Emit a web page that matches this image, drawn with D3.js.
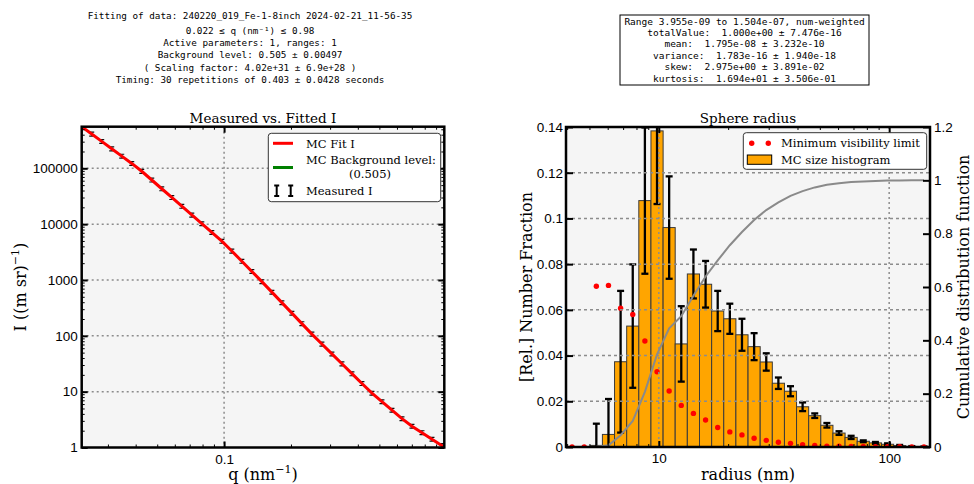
<!DOCTYPE html>
<html>
<head>
<meta charset="utf-8">
<script src="https://cdn.jsdelivr.net/npm/d3@7"></script>
<style>
  body { margin: 0; background: #fff; }
  text { white-space: pre; }
</style>
</head>
<body>
<div id="chart"></div>
<script>
// ---- left panel: measured vs fitted intensity
const qValues = [0.02286, 0.02536, 0.02813, 0.0312, 0.03461, 0.0384, 0.04259, 0.04725, 0.05241, 0.05814,
  0.0645, 0.07155, 0.07937, 0.08804, 0.09767, 0.1083, 0.1202, 0.1333, 0.1479, 0.1641,
  0.182, 0.2019, 0.2239, 0.2484, 0.2756, 0.3057, 0.3391, 0.3762, 0.4173, 0.4629,
  0.5135, 0.5696, 0.6319, 0.7009, 0.7776, 0.8625, 0.9568, 0.98];
const iMeasured = [5.556e5, 4.102e5, 3.032e5, 2.239e5, 1.655e5, 1.222e5, 8.85e4, 6.175e4, 4.304e4, 3.004e4,
  2.094e4, 1.461e4, 1.018e4, 7103, 4951, 3298, 2166, 1423, 933.7, 605.9,
  393.1, 255.1, 165.5, 107.4, 71.24, 47.46, 31.56, 20.99, 13.98, 9.389,
  6.614, 4.661, 3.284, 2.411, 1.845, 1.411, 1.08, 1.006];
const iError = [4.4e4, 3.3e4, 2.4e4, 1.8e4, 1.3e4, 9.8e3, 7.1e3, 4.9e3, 3.4e3, 2.4e3,
  1.7e3, 1.2e3, 810, 570, 400, 260, 173, 114, 75, 48,
  31, 20, 13, 8.6, 5.7, 3.8, 2.5, 1.7, 1.1, 0.75,
  0.53, 0.37, 0.26, 0.19, 0.15, 0.11, 0.09, 0.08];
const bgLevel = 0.505;
const qTicks = [0.1];
const iTicks = [1, 10, 100, 1000, 10000, 100000];

// ---- right panel: size distribution
const binEdges = [3.955, 4.465, 5.041, 5.691, 6.425, 7.254, 8.189, 9.246, 10.44, 11.78,
  13.30, 15.02, 16.96, 19.14, 21.61, 24.40, 27.55, 31.10, 35.11, 39.62,
  44.73, 50.49, 57.01, 64.36, 72.66, 82.03, 92.61, 104.55, 118.04, 133.26, 150.4];
const histValues = [0, 0, 0.0007, 0.0055, 0.0373, 0.0529, 0.1078, 0.1383, 0.0960, 0.0451,
  0.0757, 0.0712, 0.0595, 0.0561, 0.0491, 0.0439, 0.0372, 0.0279, 0.0244, 0.0176,
  0.0137, 0.0095, 0.0061, 0.0042, 0.0025, 0.0018, 0.0012, 0.0006, 0.0002, 0.0001];
const histErrors = [0, 0, 0.0095, 0.0155, 0.031, 0.027, 0.032, 0.032, 0.0224, 0.0165,
  0.0107, 0.0102, 0.0088, 0.0066, 0.007, 0.0059, 0.0038, 0.0025, 0.0022, 0.0019,
  0.001, 0.001, 0.0008, 0.0007, 0.0004, 0.0004, 0.0004, 0.0003, 0.0002, 0.0001];
const minVisibility = [0, 0, 0.0703, 0.0707, 0.0607, 0.058, 0.0464, 0.0329, 0.0245, 0.0182,
  0.0147, 0.0118, 0.0085, 0.0066, 0.0053, 0.0038, 0.0029, 0.0021, 0.0016, 0.001,
  0.0007, 0.0004, 0.0003, 0.0002, 0.0002, 0.0001, 0.0001, 0.0001, 0, 0];
const radiusTicks = [10, 100];
const fracTicks = [0, 0.02, 0.04, 0.06, 0.08, 0.1, 0.12, 0.14];
const cdfTicks = [0, 0.2, 0.4, 0.6, 0.8, 1, 1.2];

const fitInfo = [
  "Fitting of data: 240220_019_Fe-1-8inch 2024-02-21_11-56-35",
  "0.022 ≤ q (nm⁻¹) ≤ 0.98",
  "Active parameters: 1, ranges: 1",
  "Background level: 0.505 ± 0.00497",
  "( Scaling factor: 4.02e+31 ± 6.9e+28 )",
  "Timing: 30 repetitions of 0.403 ± 0.0428 seconds"
];
const statsInfo = [
  "Range 3.955e-09 to 1.504e-07, num-weighted",
  "totalValue:  1.000e+00 ± 7.476e-16",
  "mean:  1.795e-08 ± 3.232e-10",
  "variance:  1.783e-16 ± 1.940e-18",
  "skew:  2.975e+00 ± 3.891e-02",
  "kurtosis:  1.694e+01 ± 3.506e-01"
];

const serif = "'DejaVu Serif', serif";
const sans = "'Liberation Sans', Arial, sans-serif";
const mono = "'DejaVu Sans Mono', monospace";
const gridColor = "#8c8c8c";

const svg = d3.select("#chart").append("svg")
  .attr("width", 974).attr("height", 484)
  .style("font-family", serif);

const L = { left: 81.7, right: 444.3, top: 126.7, bottom: 447.5 };
const R = { left: 566, right: 930, top: 127, bottom: 447 };

const xL = d3.scaleLog().domain([0.02286, 0.98]).range([L.left, L.right]);
const yL = d3.scaleLog().domain([1, 5.56e5]).range([L.bottom, L.top]);
const xR = d3.scaleLog().domain([3.955, 150.4]).range([R.left, R.right]);
const yR = d3.scaleLinear().domain([0, 0.14]).range([R.bottom, R.top]);
const yC = d3.scaleLinear().domain([0, 1.2]).range([R.bottom, R.top]);

// clip paths
const defs = svg.append("defs");
defs.append("clipPath").attr("id", "clipL").append("rect")
  .attr("x", L.left).attr("y", L.top).attr("width", L.right - L.left).attr("height", L.bottom - L.top);
defs.append("clipPath").attr("id", "clipR").append("rect")
  .attr("x", R.left).attr("y", R.top).attr("width", R.right - R.left).attr("height", R.bottom - R.top);

// backgrounds
svg.append("rect").attr("x", L.left).attr("y", L.top).attr("width", L.right - L.left)
  .attr("height", L.bottom - L.top).attr("fill", "#f5f5f5");
svg.append("rect").attr("x", R.left).attr("y", R.top).attr("width", R.right - R.left)
  .attr("height", R.bottom - R.top).attr("fill", "#f5f5f5");

// ticks helper: inward ticks, optional labels
function ticks(axis, x, y, values, size, labels) {
  const g = svg.append("g").attr("transform", `translate(${x},${y})`)
    .call(axis.tickValues(values).tickSize(-size).tickPadding(labels ? 4 : 0)
      .tickFormat(labels ? (d => String(d)) : () => ""));
  g.select(".domain").remove();
  g.selectAll("line").attr("stroke", "#000").attr("stroke-width", size > 5 ? 2 : 1);
  g.selectAll("text").attr("font-family", sans).attr("font-size", 13.5).attr("fill", "#000");
  return g;
}
const minorOf = (scale, majors) => scale.ticks().filter(v => !majors.some(m => Math.abs(m - v) / m < 1e-6));

// ================= LEFT PANEL =================
const gridL = svg.append("g").attr("stroke", gridColor).attr("stroke-width", 1.5).attr("stroke-dasharray", "2,3");
gridL.selectAll(".h").data(iTicks.filter(v => v > 1)).join("line")
  .attr("x1", L.left).attr("x2", L.right).attr("y1", d => yL(d)).attr("y2", d => yL(d));
gridL.selectAll(".v").data(qTicks).join("line")
  .attr("x1", d => xL(d)).attr("x2", d => xL(d)).attr("y1", L.top).attr("y2", L.bottom);

const plotL = svg.append("g").attr("clip-path", "url(#clipL)");
// measured error bars
const eb = plotL.append("g").attr("stroke", "#111").attr("stroke-width", 1.2);
qValues.forEach((q, i) => {
  const x = xL(q), lo = yL(iMeasured[i] - iError[i]), hi = yL(iMeasured[i] + iError[i]);
  eb.append("line").attr("x1", x).attr("x2", x).attr("y1", lo).attr("y2", hi);
  eb.append("line").attr("x1", x - 2.5).attr("x2", x + 2.5).attr("y1", lo).attr("y2", lo);
  eb.append("line").attr("x1", x - 2.5).attr("x2", x + 2.5).attr("y1", hi).attr("y2", hi);
});
// fit line
const lineL = d3.line().x((d, i) => xL(qValues[i])).y(d => yL(d));
plotL.append("path").datum(iMeasured).attr("d", lineL)
  .attr("fill", "none").attr("stroke", "#ff0000").attr("stroke-width", 3);
// background level (below visible range)
plotL.append("line").attr("x1", L.left).attr("x2", L.right)
  .attr("y1", yL(bgLevel)).attr("y2", yL(bgLevel)).attr("stroke", "green").attr("stroke-width", 3);

// ticks left panel
ticks(d3.axisLeft(yL), L.left, 0, iTicks, 6, true);
ticks(d3.axisLeft(yL), L.left, 0, minorOf(yL, iTicks), 3, false);
ticks(d3.axisRight(yL), L.right, 0, iTicks, 6, false);
ticks(d3.axisRight(yL), L.right, 0, minorOf(yL, iTicks), 3, false);
ticks(d3.axisBottom(xL), 0, L.bottom, qTicks, 6, true).selectAll("text").attr("dy", "0.9em");
ticks(d3.axisBottom(xL), 0, L.bottom, minorOf(xL, qTicks), 3, false);
ticks(d3.axisTop(xL), 0, L.top, qTicks, 6, false);
ticks(d3.axisTop(xL), 0, L.top, minorOf(xL, qTicks), 3, false);

svg.append("rect").attr("x", L.left).attr("y", L.top).attr("width", L.right - L.left)
  .attr("height", L.bottom - L.top).attr("fill", "none").attr("stroke", "#000").attr("stroke-width", 2.5);

// legend left
const lgL = svg.append("g");
lgL.append("rect").attr("x", 268.3).attr("y", 133.3).attr("width", 172.4).attr("height", 68.4)
  .attr("rx", 3).attr("fill", "#fff").attr("stroke", "#333").attr("stroke-width", 1);
lgL.append("line").attr("x1", 273).attr("x2", 293).attr("y1", 143.3).attr("y2", 143.3)
  .attr("stroke", "#ff0000").attr("stroke-width", 3);
lgL.append("line").attr("x1", 273).attr("x2", 293).attr("y1", 167.5).attr("y2", 167.5)
  .attr("stroke", "green").attr("stroke-width", 3);
[276.7, 290.7].forEach(x => {
  const e = lgL.append("g").attr("stroke", "#000").attr("stroke-width", 2);
  e.append("line").attr("x1", x).attr("x2", x).attr("y1", 185.5).attr("y2", 196);
  e.append("line").attr("x1", x - 2.5).attr("x2", x + 2.5).attr("y1", 185.5).attr("y2", 185.5);
  e.append("line").attr("x1", x - 2.5).attr("x2", x + 2.5).attr("y1", 196).attr("y2", 196);
});
const lgTxt = (g, x, y, t, anchor) => g.append("text").attr("x", x).attr("y", y)
  .attr("font-size", 11.5).attr("text-anchor", anchor || "start").text(t);
lgTxt(lgL, 306, 147.5, "MC Fit I");
lgTxt(lgL, 306, 164, "MC Background level:");
lgTxt(lgL, 370, 178, "(0.505)", "middle");
lgTxt(lgL, 306, 195, "Measured I");

// labels left
svg.append("text").attr("x", (L.left + L.right) / 2).attr("y", 122.5).attr("text-anchor", "middle")
  .attr("font-size", 13.5).text("Measured vs. Fitted I");
const qLab = svg.append("text").attr("x", (L.left + L.right) / 2).attr("y", 480).attr("text-anchor", "middle")
  .attr("font-size", 16);
qLab.append("tspan").text("q (nm");
qLab.append("tspan").attr("dy", -7).attr("font-size", 11).text("−1");
qLab.append("tspan").attr("dy", 7).text(")");
const iLab = svg.append("text").attr("transform", `translate(26,${(L.top + L.bottom) / 2}) rotate(-90)`)
  .attr("text-anchor", "middle").attr("font-size", 16);
iLab.append("tspan").text("I ((m sr)");
iLab.append("tspan").attr("dy", -7).attr("font-size", 11).text("−1");
iLab.append("tspan").attr("dy", 7).text(")");

// ================= RIGHT PANEL =================
const bins = histValues.map((v, i) => ({
  x0: binEdges[i], x1: binEdges[i + 1], c: Math.sqrt(binEdges[i] * binEdges[i + 1]),
  v: v, e: histErrors[i], m: minVisibility[i]
}));
const total = d3.sum(histValues);
const cdf = Array.from(d3.cumsum(histValues), v => v / total);

const plotR = svg.append("g").attr("clip-path", "url(#clipR)");
plotR.selectAll("rect.bar").data(bins).join("rect").attr("class", "bar")
  .attr("x", d => xR(d.x0)).attr("width", d => xR(d.x1) - xR(d.x0))
  .attr("y", d => yR(d.v)).attr("height", d => R.bottom - yR(d.v))
  .attr("fill", "#ffa500").attr("stroke", "#3a3a3a").attr("stroke-width", 1);

// grid right (drawn over bars)
const gridR = svg.append("g").attr("stroke", gridColor).attr("stroke-width", 1.5);
gridR.selectAll(".h").data(fracTicks.filter(v => v > 0 && v < 0.14)).join("line")
  .attr("stroke-dasharray", "3,3")
  .attr("x1", R.left).attr("x2", R.right).attr("y1", d => yR(d)).attr("y2", d => yR(d));
gridR.selectAll(".v").data(radiusTicks).join("line")
  .attr("stroke-dasharray", "2,3")
  .attr("x1", d => xR(d)).attr("x2", d => xR(d)).attr("y1", R.top).attr("y2", R.bottom);

const ebR = plotR.append("g").attr("stroke", "#000").attr("stroke-width", 2.3);
bins.filter(d => d.e > 0).forEach(d => {
  const x = xR(d.c), lo = yR(d.v - d.e), hi = yR(d.v + d.e);
  ebR.append("line").attr("x1", x).attr("x2", x).attr("y1", lo).attr("y2", hi);
  ebR.append("line").attr("x1", x - 3.5).attr("x2", x + 3.5).attr("y1", lo).attr("y2", lo);
  ebR.append("line").attr("x1", x - 3.5).attr("x2", x + 3.5).attr("y1", hi).attr("y2", hi);
});

plotR.selectAll("circle.mv").data(bins).join("circle").attr("class", "mv")
  .attr("cx", d => xR(d.c)).attr("cy", d => yR(d.m)).attr("r", 2.7).attr("fill", "#ff0000");

const cdfLine = d3.line().x((d, i) => xR(bins[i].c)).y(d => yC(d));
plotR.append("path").datum(cdf).attr("d", cdfLine)
  .attr("fill", "none").attr("stroke", "#8a8a8a").attr("stroke-width", 2);

// ticks right panel
ticks(d3.axisLeft(yR), R.left, 0, fracTicks, 7, true).selectAll("text").attr("dx", "1px");
ticks(d3.axisRight(yC), R.right, 0, cdfTicks, 7, true);
ticks(d3.axisBottom(xR), 0, R.bottom, radiusTicks, 6, true).selectAll("text").attr("dy", "0.9em");
ticks(d3.axisBottom(xR), 0, R.bottom, minorOf(xR, radiusTicks), 3, false);
ticks(d3.axisTop(xR), 0, R.top, radiusTicks, 6, false);
ticks(d3.axisTop(xR), 0, R.top, minorOf(xR, radiusTicks), 3, false);

svg.append("rect").attr("x", R.left).attr("y", R.top).attr("width", R.right - R.left)
  .attr("height", R.bottom - R.top).attr("fill", "none").attr("stroke", "#000").attr("stroke-width", 2.5);

// legend right
const lgR = svg.append("g");
lgR.append("rect").attr("x", 743.3).attr("y", 132.7).attr("width", 183.4).attr("height", 36.6)
  .attr("rx", 3).attr("fill", "#fff").attr("stroke", "#333").attr("stroke-width", 1);
[751.7, 768.3].forEach(x => lgR.append("circle").attr("cx", x).attr("cy", 143.3).attr("r", 2.7).attr("fill", "#ff0000"));
lgR.append("rect").attr("x", 747.3).attr("y", 155).attr("width", 24.4).attr("height", 9.3)
  .attr("fill", "#ffa500").attr("stroke", "#000").attr("stroke-width", 1);
lgTxt(lgR, 781, 147.3, "Minimum visibility limit");
lgTxt(lgR, 781, 164, "MC size histogram");

// labels right
svg.append("text").attr("x", (R.left + R.right) / 2).attr("y", 122.5).attr("text-anchor", "middle")
  .attr("font-size", 13.5).text("Sphere radius");
svg.append("text").attr("x", (R.left + R.right) / 2).attr("y", 480).attr("text-anchor", "middle")
  .attr("font-size", 16).text("radius (nm)");
svg.append("text").attr("transform", `translate(532,${(R.top + R.bottom) / 2}) rotate(-90)`)
  .attr("text-anchor", "middle").attr("font-size", 16).text("[Rel.] Number Fraction");
svg.append("text").attr("transform", `translate(969,${(R.top + R.bottom) / 2}) rotate(-90)`)
  .attr("text-anchor", "middle").attr("font-size", 16).text("Cumulative distribution function");

// ================= HEADER TEXTS =================
const fitY = [19, 33.5, 45.5, 58, 70.5, 82.5];
svg.append("g").selectAll("text").data(fitInfo).join("text")
  .attr("x", 250).attr("y", (d, i) => fitY[i]).attr("text-anchor", "middle")
  .attr("font-family", mono).attr("font-size", 9.3).text(d => d);

svg.append("rect").attr("x", 620).attr("y", 15).attr("width", 249).attr("height", 70)
  .attr("fill", "#fff").attr("stroke", "#000").attr("stroke-width", 1);
svg.append("g").selectAll("text").data(statsInfo).join("text")
  .attr("x", 744.5).attr("y", (d, i) => 24.5 + i * 11.4).attr("text-anchor", "middle")
  .attr("font-family", mono).attr("font-size", 9.5).text(d => d);
</script>
</body>
</html>
